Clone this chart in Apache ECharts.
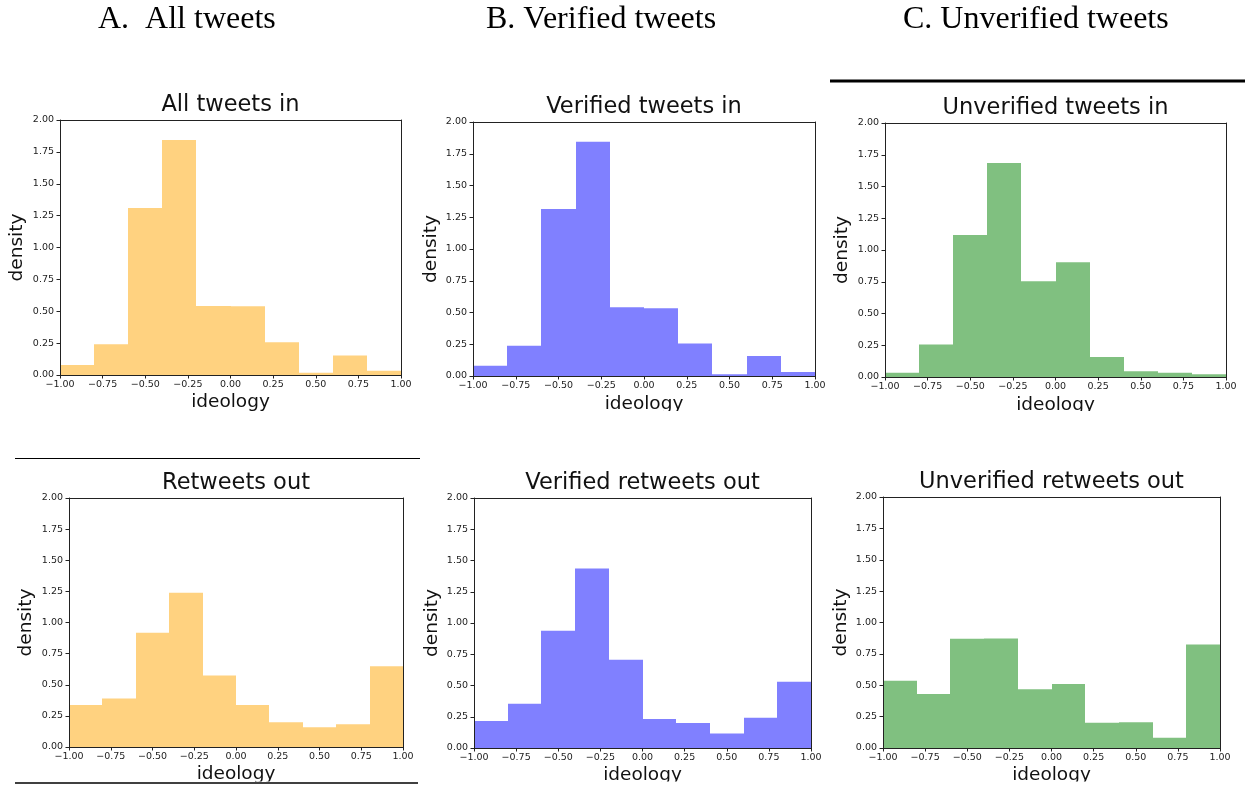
<!DOCTYPE html>
<html>
<head>
<meta charset="utf-8">
<title>Ideology histograms</title>
<script src="https://cdn.jsdelivr.net/npm/echarts@6/dist/echarts.min.js"></script>
<style>
  html, body { margin: 0; padding: 0; background: #fff; }
  #chart { width: 1245px; height: 789px; }
</style>
</head>
<body>
<div id="chart"></div>
<script>
// Histogram bin edges shared by every panel
const binEdges = [-1, -0.8, -0.6, -0.4, -0.2, 0, 0.2, 0.4, 0.6, 0.8, 1];

// Axis ticks
const xTicks = [-1, -0.75, -0.5, -0.25, 0, 0.25, 0.5, 0.75, 1];
const yTicks = [0, 0.25, 0.5, 0.75, 1, 1.25, 1.5, 1.75, 2];

// Column headers
const columnHeaders = ['A.  All tweets', 'B. Verified tweets', 'C. Unverified tweets'];

// Panel titles
const panelTitles = [
  'All tweets in', 'Verified tweets in', 'Unverified tweets in',
  'Retweets out', 'Verified retweets out', 'Unverified retweets out'
];

// Densities per bin
const allTweetsIn        = [0.079, 0.241, 1.309, 1.843, 0.542, 0.539, 0.257, 0.018, 0.152, 0.034];
const verifiedTweetsIn   = [0.081, 0.239, 1.315, 1.845, 0.541, 0.533, 0.255, 0.013, 0.157, 0.031];
const unverifiedTweetsIn = [0.034, 0.255, 1.118, 1.685, 0.753, 0.903, 0.157, 0.045, 0.034, 0.021];
const retweetsOut           = [0.338, 0.389, 0.917, 1.239, 0.574, 0.338, 0.198, 0.158, 0.182, 0.649];
const verifiedRetweetsOut   = [0.216, 0.355, 0.939, 1.437, 0.707, 0.232, 0.200, 0.117, 0.243, 0.531];
const unverifiedRetweetsOut = [0.535, 0.431, 0.870, 0.872, 0.468, 0.510, 0.202, 0.205, 0.082, 0.824];

const panelValues = [allTweetsIn, verifiedTweetsIn, unverifiedTweetsIn,
                     retweetsOut, verifiedRetweetsOut, unverifiedRetweetsOut];

// Styling / layout
const ORANGE = '#FFD280', BLUE = '#8080FF', GREEN = '#80C080';
const panelColors = [ORANGE, BLUE, GREEN, ORANGE, BLUE, GREEN];
const plotBoxes = [
  { left: 60,  top: 120, width: 341, height: 255, titleY: 105,   xNameY: 402.6, yNameX: 17.6 },
  { left: 473, top: 122, width: 342, height: 254, titleY: 107,   xNameY: 404,   yNameX: 431 },
  { left: 885, top: 123, width: 341, height: 254, titleY: 108,   xNameY: 405,   yNameX: 842 },
  { left: 69,  top: 498, width: 334, height: 249, titleY: 483.5, xNameY: 774.6, yNameX: 26 },
  { left: 474, top: 498, width: 337, height: 250, titleY: 483,   xNameY: 775.6, yNameX: 432.6 },
  { left: 883, top: 497, width: 337, height: 251, titleY: 482,   xNameY: 775.6, yNameX: 841 }
];
const headerPos = [[98, 20], [486, 20], [903, 20]];

const SANS = '"DejaVu Sans", sans-serif';
const SERIF = '"Liberation Serif", "Times New Roman", serif';
const INK = '#222';

function fmtTick(v, digits) {
  const s = Math.abs(v).toFixed(digits);
  return (v < 0 ? '\u2212' : '') + s;
}

const grid = [], xAxis = [], yAxis = [], series = [], graphic = [];

plotBoxes.forEach((b, i) => {
  grid.push({ left: b.left, top: b.top, width: b.width, height: b.height, containLabel: false });

  // bottom axis with ticks and labels
  xAxis.push({
    type: 'value', gridIndex: i, min: xTicks[0], max: xTicks[xTicks.length - 1], interval: 0.25,
    position: 'bottom', z: 10,
    axisLine: { show: true, onZero: false, lineStyle: { color: INK, width: 1 } },
    axisTick: { show: true, inside: false, length: 3.5, lineStyle: { color: INK, width: 1 } },
    axisLabel: { show: true, margin: 5, fontSize: 9.5, fontFamily: SANS, color: INK,
                 formatter: v => fmtTick(v, 2) },
    splitLine: { show: false }
  });
  // top spine
  xAxis.push({
    type: 'value', gridIndex: i, min: xTicks[0], max: xTicks[xTicks.length - 1], interval: 0.25,
    position: 'top', z: 10,
    axisLine: { show: true, onZero: false, lineStyle: { color: INK, width: 1 } },
    axisTick: { show: false }, axisLabel: { show: false }, splitLine: { show: false }
  });
  // left axis with ticks and labels
  yAxis.push({
    type: 'value', gridIndex: i, min: yTicks[0], max: yTicks[yTicks.length - 1], interval: 0.25,
    position: 'left', z: 10,
    axisLine: { show: true, onZero: false, lineStyle: { color: INK, width: 1 } },
    axisTick: { show: true, inside: false, length: 3.5, lineStyle: { color: INK, width: 1 } },
    axisLabel: { show: true, margin: 6, fontSize: 9.5, fontFamily: SANS, color: INK,
                 formatter: v => fmtTick(v, 2) },
    splitLine: { show: false }
  });
  // right spine
  yAxis.push({
    type: 'value', gridIndex: i, min: yTicks[0], max: yTicks[yTicks.length - 1], interval: 0.25,
    position: 'right', z: 10,
    axisLine: { show: true, onZero: false, lineStyle: { color: INK, width: 1 } },
    axisTick: { show: false }, axisLabel: { show: false }, splitLine: { show: false }
  });

  const color = panelColors[i];
  const data = panelValues[i].map((d, k) => [binEdges[k], binEdges[k + 1], d]);
  series.push({
    type: 'custom',
    xAxisIndex: i * 2,
    yAxisIndex: i * 2,
    z: 2,
    silent: true,
    encode: { x: [0, 1], y: 2 },
    data: data,
    renderItem: (params, api) => {
      const top = api.coord([api.value(0), api.value(2)]);
      const base = api.coord([api.value(1), 0]);
      // snap the bin edges to whole pixels so neighbouring bars meet without seams
      const x0 = Math.round(top[0]);
      const x1 = Math.round(base[0]);
      return {
        type: 'rect',
        shape: { x: x0, y: top[1], width: x1 - x0, height: base[1] - top[1] },
        style: { fill: color }
      };
    }
  });

  const cx = b.left + b.width / 2;
  const cy = b.top + b.height / 2;
  graphic.push({
    type: 'text', x: cx, y: b.titleY, z: 20,
    style: { text: panelTitles[i], font: '22.5px ' + SANS, fill: '#111', align: 'center', verticalAlign: 'middle' }
  });
  graphic.push({
    type: 'text', x: cx, y: b.xNameY, z: 20,
    style: { text: 'ideology', font: '18.5px ' + SANS, fill: '#111', align: 'center', verticalAlign: 'middle' }
  });
  graphic.push({
    type: 'text', x: b.yNameX, y: cy, rotation: Math.PI / 2, z: 20,
    style: { text: 'density', font: '18.5px ' + SANS, fill: '#111', align: 'center', verticalAlign: 'middle' }
  });
});

columnHeaders.forEach((t, i) => {
  graphic.push({
    type: 'text', x: headerPos[i][0], y: headerPos[i][1], z: 20,
    style: { text: t, font: '32px ' + SERIF, fill: '#000', align: 'left', verticalAlign: 'middle' }
  });
});

// trimmed lower edges of the figure rows
graphic.push({ type: 'rect', z: 30, shape: { x: 0, y: 411, width: 1245, height: 30 }, style: { fill: '#fff' } });
graphic.push({ type: 'rect', z: 30, shape: { x: 0, y: 781.5, width: 1245, height: 8 }, style: { fill: '#fff' } });

// rules
graphic.push({ type: 'line', z: 40, shape: { x1: 830, y1: 81, x2: 1245, y2: 81 }, style: { stroke: '#000', lineWidth: 3 } });
graphic.push({ type: 'line', z: 40, shape: { x1: 15, y1: 458.5, x2: 420, y2: 458.5 }, style: { stroke: '#000', lineWidth: 1.2 } });
graphic.push({ type: 'line', z: 40, shape: { x1: 15, y1: 783, x2: 418, y2: 783 }, style: { stroke: '#000', lineWidth: 1.5 } });

const chart = echarts.init(document.getElementById('chart'), null, { renderer: 'canvas' });
chart.setOption({
  backgroundColor: '#fff',
  animation: false,
  grid, xAxis, yAxis, series, graphic
});
</script>
</body>
</html>
